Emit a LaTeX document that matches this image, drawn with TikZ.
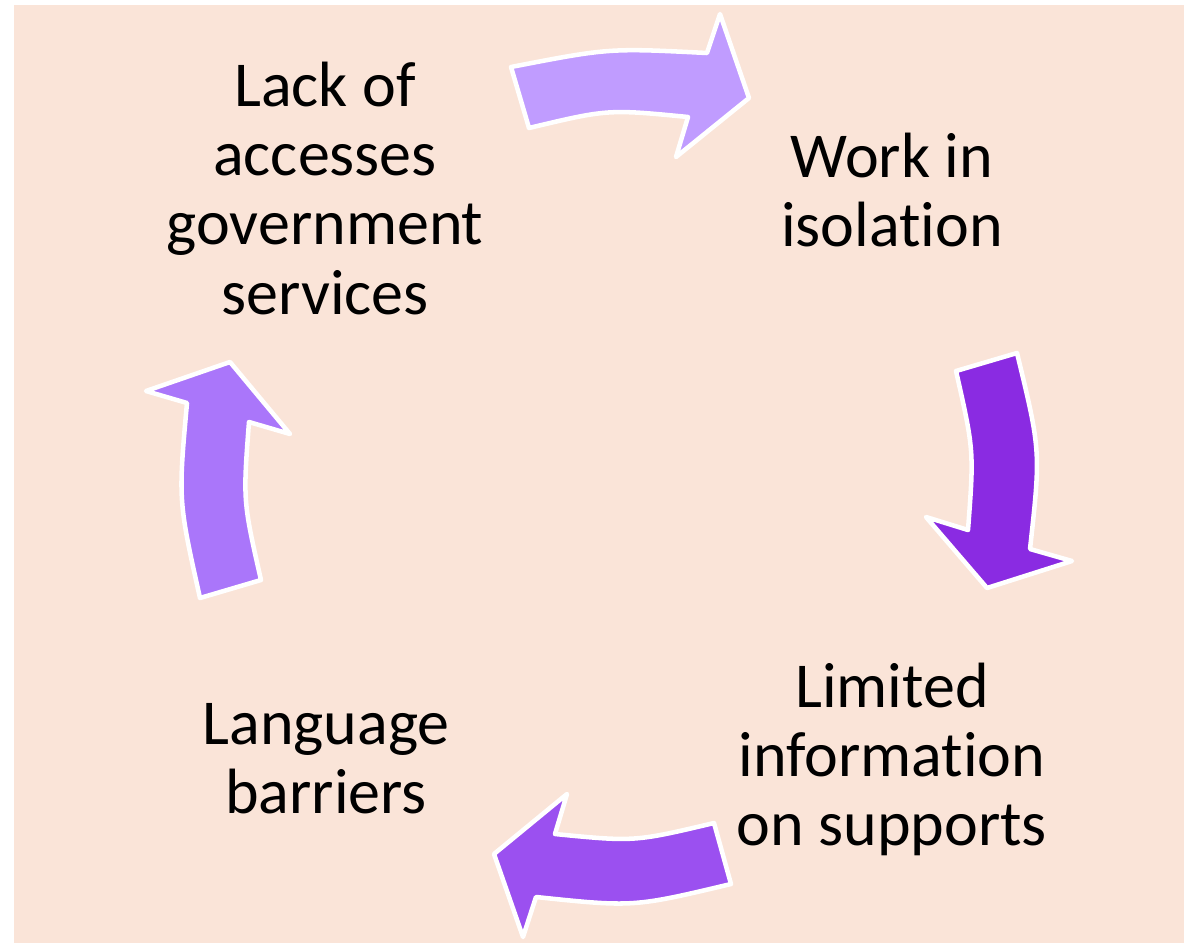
\documentclass[tikz,border=0pt]{standalone}
\usepackage{fontspec}
\setmainfont{Carlito}[Ligatures={NoCommon},RawFeature={-clig}]
\definecolor{bg}{HTML}{FAE4D8}
\definecolor{topc}{HTML}{C09CFF}
\definecolor{rightc}{HTML}{8A2BE2}
\definecolor{botc}{HTML}{9B50F0}
\definecolor{leftc}{HTML}{AA76FA}
\begin{document}
\begin{tikzpicture}[x=0.75pt,y=-0.75pt,
  arrowshape/.style={draw=white,line width=3.4pt,line join=round},
  lbl/.style={anchor=base,inner sep=0pt,font=\fontsize{48}{52}\selectfont}]
\useasboundingbox (0,0) rectangle (1184,943);
\fill[bg] (14,5) rectangle (1184,943);
% arrows
\filldraw[arrowshape,fill=topc] (511,67) .. controls (609,48) .. (707,53) -- (720,14) -- (749,98) -- (676,157) -- (688,117) .. controls (607.8,109.2) .. (529,128) -- cycle;
\filldraw[arrowshape,fill=rightc] (1017,353) .. controls (1040.8,451) .. (1030,549) -- (1072,561) -- (987,588) -- (926,517) -- (968,530) .. controls (974,450.5) .. (956,371) -- cycle;
\filldraw[arrowshape,fill=botc] (731,884) .. controls (633.5,907.2) .. (536,897) -- (523,937) -- (494,854) -- (567,794) -- (555,834) .. controls (634.5,841.8) .. (714,823) -- cycle;
\filldraw[arrowshape,fill=leftc] (200,598) .. controls (178.2,500.5) .. (187,403) -- (146,391) -- (230,362) -- (290,434) -- (249,422) .. controls (243,501) .. (261,580) -- cycle;
% labels
\node[lbl] (lack) at (325,106) {\begin{tabular}[t]{@{}c@{}}Lack of\\accesses\\government\\services\end{tabular}};
\node[lbl] (work) at (892,177) {\begin{tabular}[t]{@{}c@{}}Work in\\isolation\end{tabular}};
\node[lbl] (limited) at (892,707) {\begin{tabular}[t]{@{}c@{}}Limited\\information\\on supports\end{tabular}};
\node[lbl] (lang) at (326,744) {\begin{tabular}[t]{@{}c@{}}Language\\barriers\end{tabular}};
\end{tikzpicture}
\end{document}
